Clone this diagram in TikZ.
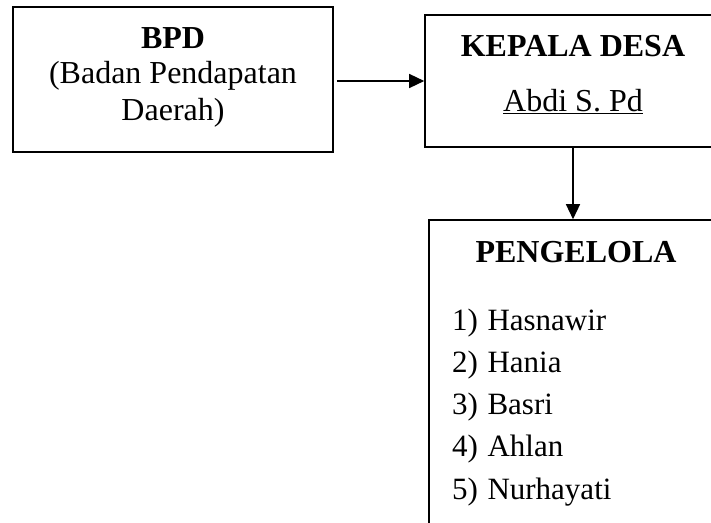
\documentclass[tikz,border=0pt]{standalone}
\usepackage{fontspec}
\setmainfont{Liberation Serif}
\usetikzlibrary{arrows.meta}
\begin{document}
\begin{tikzpicture}[x=1pt,y=-1pt,
	box/.style={draw,line width=1.6pt,inner sep=0pt},
	txt/.style={anchor=base,inner sep=0pt,font=\fontsize{32}{38}\selectfont},
	item/.style={anchor=base west,inner sep=0pt,font=\fontsize{31}{37}\selectfont},
	conn/.style={-{Triangle[length=15pt,width=14pt]},line width=1.4pt}]
	\useasboundingbox (0,0) rectangle (711,522);
	\clip (0,0) rectangle (711,522);
	% boxes
	\node[box,minimum width=320pt,minimum height=145pt] (bpd) at (173,79.5) {};
	\node[box,minimum width=296pt,minimum height=132pt] (kades) at (573,81) {};
	\node[box,minimum width=294pt,minimum height=340pt] (pengelola) at (576,390) {};
	% texts
	\node[txt] (bpdname) at (173,48) {\bfseries BPD};
	\node[txt] (bpdlong) at (173,83) {(Badan Pendapatan};
	\node[txt] (bpdlong2) at (173,120) {Daerah)};
	\node[txt] (kadestitle) at (573,56) {\bfseries KEPALA DESA};
	\node[txt] (kadesname) at (573,111) {\underline{Abdi S. Pd}};
	\node[txt] (pengelolatitle) at (576,262) {\bfseries PENGELOLA};
	\foreach \i/\name in {1/Hasnawir,2/Hania,3/Basri,4/Ahlan,5/Nurhayati}{
		\node[item] (member\i) at (452,{330+42.25*(\i-1)}) {\i)\hspace{9.5pt}\name};
	}
	% arrows
	\draw[conn,shorten <=3pt] (bpd.east |- kades.west) -- (kades.west);
	\draw[conn] (kades.south) -- (kades.south |- pengelola.north);
\end{tikzpicture}
\end{document}
